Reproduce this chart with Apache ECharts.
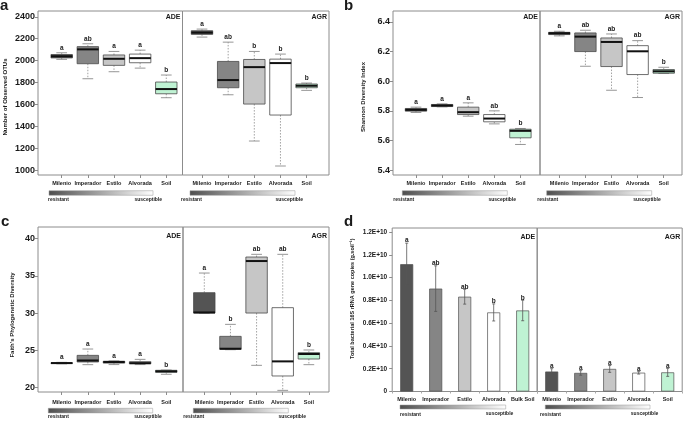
<!DOCTYPE html>
<html><head><meta charset="utf-8">
<script src="https://cdn.jsdelivr.net/npm/echarts@6/dist/echarts.min.js"></script>
<style>html,body{margin:0;padding:0;background:#fff}#c{width:685px;height:421px}</style>
</head><body><div id="c"></div>
<script>
// ================= DATA =================
const cultivars = ['Milenio', 'Imperador', 'Estilo', 'Alvorada', 'Soil'];
const cultivarsD_ADE = ['Milenio', 'Imperador', 'Estilo', 'Alvorada', 'Bulk Soil'];
const cultivarColors = ['#545454', '#858585', '#c6c6c6', '#ffffff', '#bff2d3'];

// boxplot stats: [min, q1, median, q3, max]
const otuADE = [[2012, 2025, 2040, 2056, 2072], [1835, 1972, 2103, 2128, 2154], [1899, 1957, 2017, 2052, 2084], [1932, 1981, 2023, 2060, 2096], [1662, 1698, 1741, 1805, 1869]];
const otuAGR = [[2215, 2240, 2256, 2273, 2288], [1689, 1753, 1823, 1993, 2169], [1267, 1604, 1941, 2011, 2084], [1039, 1504, 1978, 2014, 2060], [1729, 1753, 1771, 1787, 1796]];
const otuLetADE = ['a', 'ab', 'a', 'a', 'b'];
const otuLetAGR = ['a', 'ab', 'b', 'b', 'b'];
const otuTicks = [1000, 1200, 1400, 1600, 1800, 2000, 2200, 2400];
const otuTickLabels = ['1000', '1200', '1400', '1600', '1800', '2000', '2200', '2400'];

const shanADE = [[5.789, 5.798, 5.807, 5.816, 5.825], [5.827, 5.829, 5.836, 5.843, 5.847], [5.764, 5.775, 5.791, 5.825, 5.854], [5.712, 5.726, 5.748, 5.775, 5.800], [5.573, 5.618, 5.665, 5.676, 5.681]];
const shanAGR = [[6.306, 6.315, 6.324, 6.330, 6.337], [6.101, 6.200, 6.301, 6.326, 6.344], [5.939, 6.099, 6.265, 6.292, 6.319], [5.890, 6.045, 6.202, 6.240, 6.274], [6.052, 6.054, 6.067, 6.079, 6.094]];
const shanLetADE = ['a', 'a', 'a', 'ab', 'b'];
const shanLetAGR = ['a', 'ab', 'ab', 'ab', 'b'];
const shanTicks = [5.4, 5.6, 5.8, 6.0, 6.2, 6.4];
const shanTickLabels = ['5.4', '5.6', '5.8', '6.0', '6.2', '6.4'];

const faithADE = [[23.2, 23.25, 23.3, 23.35, 23.4], [23.09, 23.45, 23.65, 24.34, 25.19], [23.1, 23.3, 23.45, 23.55, 23.6], [23.1, 23.2, 23.3, 23.5, 23.8], [21.8, 22.06, 22.2, 22.33, 22.37]];
const faithAGR = [[30.0, 30.02, 30.1, 32.75, 35.39], [25.1, 25.15, 25.23, 26.89, 28.5], [23.0, 30.02, 37.0, 37.54, 37.9], [19.64, 21.57, 23.53, 30.74, 37.9], [23.09, 23.85, 24.52, 24.7, 25.06]];
const faithLetADE = ['a', 'a', 'a', 'a', 'b'];
const faithLetAGR = ['a', 'b', 'ab', 'ab', 'b'];
const faithTicks = [20, 25, 30, 35, 40];
const faithTickLabels = ['20', '25', '30', '35', '40'];

// 16S copies, in units of 1E+10
const copiesADE = [1.117, 0.903, 0.832, 0.694, 0.711];
const copiesErrADE = [0.185, 0.200, 0.065, 0.075, 0.090];
const copiesAGR = [0.175, 0.163, 0.198, 0.165, 0.168];
const copiesErrAGR = [0.025, 0.020, 0.030, 0.012, 0.035];
const copiesLetADE = ['a', 'ab', 'ab', 'b', 'b'];
const copiesLetAGR = ['a', 'a', 'a', 'a', 'a'];
const copiesTicks = [0, 0.2, 0.4, 0.6, 0.8, 1.0, 1.2, 1.4];
const copiesTickLabels = ['0', '0.2E+10', '0.4E+10', '0.6E+10', '0.8E+10', '1.0E+10', '1.2E+10', '1.2E+10'];

// ================= LAYOUT / STYLE =================
const FONT = '"Liberation Sans", Arial, sans-serif';
const BOX_W = 0.82;
const AX = '#8c8c8c';

const boxPanels = [
  { letter: 'a', ade: otuADE, agr: otuAGR, letADE: otuLetADE, letAGR: otuLetAGR, ticks: otuTicks, tickLabels: otuTickLabels,
    yName: 'Number of Observed OTUs', yRange: [957, 2453],
    L: { top: 11, bottom: 175, x0: 38, xDiv: 182.5, x1: 329, adeR: [0.094, 5.62], agrR: [0.254, 5.856], xm: 5, nameGap: 30, namePad: [0, 8, 0, 0], lblDy: 6.5,
         bars: [[49, 153], [190, 295]], barY: 190.7, barH: 4.6, txtY: 200, res: [48, 181], sus: [162, 303], letterXY: [0, -2] } },
  { letter: 'b', ade: shanADE, agr: shanAGR, letADE: shanLetADE, letAGR: shanLetAGR, ticks: shanTicks, tickLabels: shanTickLabels,
    yName: 'Shannon Diversity Index', yRange: [5.367, 6.474],
    L: { top: 11, bottom: 175, x0: 393, xDiv: 540, x1: 682, adeR: [0.119, 5.75], agrR: [0.26, 5.70], xm: 5, nameGap: 27, namePad: [0, 8, 0, 0], lblDy: 6.5,
         bars: [[402.3, 507.3], [546.7, 651.7]], barY: 190.7, barH: 4.6, txtY: 200, res: [393.3, 537.3], sus: [516, 660.7], letterXY: [344, -2] } },
  { letter: 'c', ade: faithADE, agr: faithAGR, letADE: faithLetADE, letAGR: faithLetAGR, ticks: faithTicks, tickLabels: faithTickLabels,
    yName: 'Faith\u2019s Phylogenetic Diversity', yRange: [19.42, 41.57],
    L: { top: 227, bottom: 392, x0: 38, xDiv: 183, x1: 329, adeR: [0.094, 5.64], agrR: [0.185, 5.77], xm: 7.5, nameGap: 23, namePad: [0, 11, 0, 0], lblDy: 9,
         bars: [[48.3, 152.7], [193.3, 288.3]], barY: 408.3, barH: 4.6, txtY: 417, res: [48, 183.3], sus: [161.7, 306], letterXY: [1, 214] } }
];
const dL = { top: 228, bottom: 391.5, x0: 392.2, xDiv: 537.2, x1: 682.2, xm: 5, nameGap: 37, namePad: [0, 0, 0, 22], lblDy: 9,
  bars: [[400, 505.7], [545.3, 650]], barY: 405, barH: 4, txtY: 414.3, res: [400, 540], sus: [513.3, 658.3], letterXY: [344, 214] };

// ================= BUILD =================
const opt = { animation: false, backgroundColor: '#fff', grid: [], xAxis: [], yAxis: [], series: [], graphic: { elements: [] } };
const G = opt.graphic.elements;

function txt(x, y, text, font, align, vAlign, extra) {
  G.push(Object.assign({ type: 'text', x: x, y: y, silent: true,
    style: { text: text, font: font, fill: '#1a1a1a', align: align || 'left', verticalAlign: vAlign || 'middle' } }, extra || {}));
}

function makeBoxRender(letters) {
  return function (params, api) {
    const i = params.dataIndex;
    const x = api.value(0);
    const pMin = api.coord([x, api.value(1)]);
    const pQ1 = api.coord([x, api.value(2)]);
    const pMed = api.coord([x, api.value(3)]);
    const pQ3 = api.coord([x, api.value(4)]);
    const pMax = api.coord([x, api.value(5)]);
    const w = api.size([BOX_W, 0])[0];
    const cx = pMed[0], hw = w / 2, cw = w / 4;
    const wStyle = { stroke: '#8a8a8a', lineWidth: 0.8, lineDash: [1.5, 1.5] };
    const cStyle = { stroke: '#8a8a8a', lineWidth: 0.9 };
    return { type: 'group', children: [
      { type: 'line', shape: { x1: cx, y1: pQ3[1], x2: cx, y2: pMax[1] }, style: wStyle },
      { type: 'line', shape: { x1: cx, y1: pQ1[1], x2: cx, y2: pMin[1] }, style: wStyle },
      { type: 'line', shape: { x1: cx - cw, y1: pMax[1], x2: cx + cw, y2: pMax[1] }, style: cStyle },
      { type: 'line', shape: { x1: cx - cw, y1: pMin[1], x2: cx + cw, y2: pMin[1] }, style: cStyle },
      { type: 'rect', shape: { x: cx - hw, y: pQ3[1], width: w, height: Math.max(pQ1[1] - pQ3[1], 0.5) },
        style: { fill: cultivarColors[i], stroke: '#4a4a4a', lineWidth: 0.8 } },
      { type: 'line', shape: { x1: cx - hw, y1: pMed[1], x2: cx + hw, y2: pMed[1] }, style: { stroke: '#111', lineWidth: 2 } },
      { type: 'text', x: cx, y: pMax[1] - 1.5, style: { text: letters[i], font: 'bold 6.5px ' + FONT, fill: '#1a1a1a', align: 'center', verticalAlign: 'bottom' } }
    ] };
  };
}

function labelFromTicks(ticks, labels) {
  return function (v) {
    let best = 0;
    for (let k = 1; k < ticks.length; k++) if (Math.abs(ticks[k] - v) < Math.abs(ticks[best] - v)) best = k;
    return labels[best];
  };
}

function decorations(L, letter) {
  // panel letter
  txt(L.letterXY[0], L.letterXY[1], letter, 'bold 15px ' + FONT, 'left', 'top');
  // group labels
  txt(L.xDiv - 2, L.top + L.lblDy, 'ADE', 'bold 7px ' + FONT, 'right', 'middle');
  txt(L.x1 - 2, L.top + L.lblDy, 'AGR', 'bold 7px ' + FONT, 'right', 'middle');
  // resistant -> susceptible gradient bars
  for (let g = 0; g < 2; g++) {
    G.push({ type: 'rect', silent: true, shape: { x: L.bars[g][0], y: L.barY, width: L.bars[g][1] - L.bars[g][0], height: L.barH },
      style: { fill: { type: 'linear', x: 0, y: 0, x2: 1, y2: 0, colorStops: [{ offset: 0, color: '#4e4e4e' }, { offset: 1, color: '#ffffff' }] },
               stroke: '#9a9a9a', lineWidth: 0.5 } });
    txt(L.res[g], L.txtY, 'resistant', 'bold 5px ' + FONT, 'left', 'middle');
    txt(L.sus[g], L.txtY - 0.7, 'susceptible', 'bold 5px ' + FONT, 'right', 'middle');
  }
}

function yAxisCommon(ticks, labels, fontSize, margin) {
  return {
    axisLine: { show: false }, splitLine: { show: false },
    axisTick: { show: true, customValues: ticks, length: 3, lineStyle: { color: AX } },
    axisLabel: { customValues: ticks, formatter: labelFromTicks(ticks, labels), fontSize: fontSize, fontWeight: 'bold', color: '#1a1a1a', fontFamily: FONT, margin: margin }
  };
}

boxPanels.forEach(function (P) {
  const L = P.L;
  for (let g = 0; g < 2; g++) {
    const gIdx = opt.grid.length;
    const left = g === 0 ? L.x0 : L.xDiv, right = g === 0 ? L.xDiv : L.x1;
    opt.grid.push({ left: left, top: L.top, width: right - left, height: L.bottom - L.top, show: true,
      borderColor: AX, borderWidth: 1, backgroundColor: 'rgba(0,0,0,0)', containLabel: false, outerBoundsMode: 'none' });
    const xr = g === 0 ? L.adeR : L.agrR;
    opt.xAxis.push({ type: 'value', gridIndex: gIdx, min: xr[0], max: xr[1], axisLine: { show: false }, splitLine: { show: false },
      axisTick: { show: true, customValues: [1, 2, 3, 4, 5], length: 3, lineStyle: { color: AX } },
      axisLabel: { customValues: [1, 2, 3, 4, 5], formatter: function (v) { return cultivars[Math.round(v) - 1]; },
        fontSize: 5.5, fontWeight: 'bold', color: '#1a1a1a', fontFamily: FONT, margin: L.xm } });
    const ya = Object.assign({ type: 'value', gridIndex: gIdx, min: P.yRange[0], max: P.yRange[1], show: g === 0 },
      yAxisCommon(P.ticks, P.tickLabels, 9, 3));
    if (g === 0) {
      ya.name = P.yName; ya.nameLocation = 'middle'; ya.nameGap = L.nameGap;
      ya.nameTextStyle = { fontSize: 6, fontWeight: 'bold', color: '#1a1a1a', fontFamily: FONT, padding: L.namePad };
    }
    opt.yAxis.push(ya);
    const stats = g === 0 ? P.ade : P.agr;
    opt.series.push({ type: 'custom', xAxisIndex: gIdx, yAxisIndex: gIdx, silent: true, clip: false,
      renderItem: makeBoxRender(g === 0 ? P.letADE : P.letAGR),
      encode: { x: 0, y: [1, 2, 3, 4, 5] },
      data: stats.map(function (s, i) { return [i + 1].concat(s); }) });
  }
  decorations(L, P.letter);
});

// ---- panel d: bars with error bars ----
[0, 1].forEach(function (g) {
  const L = dL;
  const gIdx = opt.grid.length;
  const left = g === 0 ? L.x0 : L.xDiv, right = g === 0 ? L.xDiv : L.x1;
  const names = g === 0 ? cultivarsD_ADE : cultivars;
  const vals = g === 0 ? copiesADE : copiesAGR;
  const errs = g === 0 ? copiesErrADE : copiesErrAGR;
  const lets = g === 0 ? copiesLetADE : copiesLetAGR;
  opt.grid.push({ left: left, top: L.top, width: right - left, height: L.bottom - L.top, show: true,
    borderColor: AX, borderWidth: 1, backgroundColor: 'rgba(0,0,0,0)', containLabel: false, outerBoundsMode: 'none' });
  opt.xAxis.push({ type: 'category', gridIndex: gIdx, data: names, boundaryGap: true,
    axisLine: { show: false }, splitLine: { show: false },
    axisTick: { show: true, length: 2, lineStyle: { color: '#aaa' } },
    axisLabel: { interval: 0, fontSize: 5.5, fontWeight: 'bold', color: '#1a1a1a', fontFamily: FONT, margin: L.xm } });
  const ya = Object.assign({ type: 'value', gridIndex: gIdx, min: 0, max: 1.435, show: g === 0 },
    yAxisCommon(copiesTicks, copiesTickLabels, 6.5, 5));
  if (g === 0) {
    ya.name = 'Total bacterial 16S rRNA gene copies (g.soil\u207B\u00B9)'; ya.nameLocation = 'middle'; ya.nameGap = L.nameGap;
    ya.nameTextStyle = { fontSize: 5.5, fontWeight: 'bold', color: '#1a1a1a', fontFamily: FONT, padding: L.namePad };
  }
  opt.yAxis.push(ya);
  opt.series.push({ type: 'bar', xAxisIndex: gIdx, yAxisIndex: gIdx, barWidth: 13, silent: true,
    data: vals.map(function (v, i) { return { value: v, itemStyle: { color: cultivarColors[i], borderColor: '#505050', borderWidth: 0.7 } }; }) });
  opt.series.push({ type: 'custom', xAxisIndex: gIdx, yAxisIndex: gIdx, silent: true, clip: false, z: 5,
    encode: { x: 0, y: [1, 2] },
    data: vals.map(function (v, i) { return [i, v, errs[i]]; }),
    renderItem: function (params, api) {
      const i = params.dataIndex;
      const x = api.value(0), v = api.value(1), e = api.value(2);
      const top = api.coord([x, v + e]), bot = api.coord([x, v - e]);
      const cx = top[0];
      const st = { stroke: '#555', lineWidth: 0.8 };
      return { type: 'group', children: [
        { type: 'line', shape: { x1: cx, y1: top[1], x2: cx, y2: bot[1] }, style: st },
        { type: 'line', shape: { x1: cx - 1.5, y1: top[1], x2: cx + 1.5, y2: top[1] }, style: st },
        { type: 'line', shape: { x1: cx - 1.5, y1: bot[1], x2: cx + 1.5, y2: bot[1] }, style: st },
        { type: 'text', x: cx, y: top[1] + 1, style: { text: lets[i], font: 'bold 6.5px ' + FONT, fill: '#1a1a1a', align: 'center', verticalAlign: 'bottom' } }
      ] };
    } });
});
decorations(dL, 'd');

const chart = echarts.init(document.getElementById('c'), null, { renderer: 'canvas' });
chart.setOption(opt);
</script>
</body></html>
